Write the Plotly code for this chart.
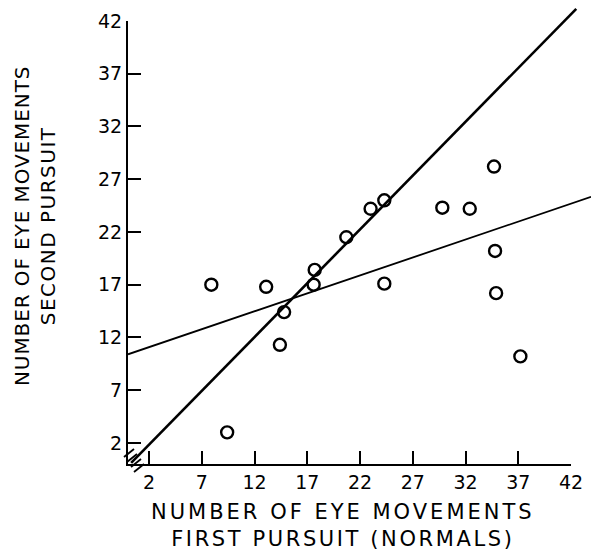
import numpy as np
import plotly.graph_objects as go

# Eye movements counted on the first and the second pursuit (normal subjects)
first_pursuit = [7.9, 9.4, 13.1, 14.4, 14.8, 17.6, 17.7, 20.7, 23.0, 24.3, 24.3,
                 29.8, 32.4, 34.7, 34.8, 34.9, 37.2]
second_pursuit = [17.0, 3.0, 16.8, 11.3, 14.4, 17.0, 18.4, 21.5, 24.2, 25.0, 17.1,
                  24.3, 24.2, 28.2, 20.2, 16.2, 10.2]

# Fitted lines: (intercept, slope, x start, x end)
steep_fit = (-0.2, 1.02, 0.3, 42.5)
shallow_fit = (10.4, 0.34, 0.0, 43.9)

tick_values = [2, 7, 12, 17, 22, 27, 32, 37, 42]
tick_labels = [str(v) for v in tick_values]

FONT = "DejaVu Sans"
INK = "black"

# Page geometry (pixels)
W, H = 591, 556
ML, MB = 128, 92
AXIS_PX = 443.0                 # length of the drawn 0..42 axes
PAPER_W, PAPER_H = W - ML, H - MB
UNIT = AXIS_PX / 42.0           # pixels per count


def fit_line(fit):
    b, m, x0, x1 = fit
    xs = np.array([x0, x1])
    return xs, b + m * xs


fig = go.Figure()

# The fitted lines run past the end of the axes, so they live on a wider,
# hidden pair of axes sharing the same origin and scale.
sx, sy = fit_line(steep_fit)
fig.add_trace(go.Scatter(x=sx, y=sy, mode="lines", xaxis="x2", yaxis="y2",
                         line=dict(color=INK, width=2.6), hoverinfo="skip"))
hx, hy = fit_line(shallow_fit)
fig.add_trace(go.Scatter(x=hx, y=hy, mode="lines", xaxis="x2", yaxis="y2",
                         line=dict(color=INK, width=1.8), hoverinfo="skip"))

fig.add_trace(go.Scatter(
    x=first_pursuit, y=second_pursuit, mode="markers", cliponaxis=False,
    marker=dict(symbol="circle-open", size=12, color=INK, line=dict(width=2.4)),
))

axis_common = dict(
    range=[0, 42], showgrid=False, zeroline=False, automargin=False,
    showline=True, linecolor=INK, linewidth=2,
    ticks="inside", ticklen=13, tickwidth=2, tickcolor=INK,
    tickvals=tick_values, ticktext=tick_labels,
    tickfont=dict(family=FONT, size=19, color=INK),
)
fig.update_layout(
    xaxis=dict(domain=[0, AXIS_PX / PAPER_W], anchor="y", **axis_common),
    yaxis=dict(domain=[0, AXIS_PX / PAPER_H], anchor="x", **axis_common),
    xaxis2=dict(domain=[0, 1], range=[0, PAPER_W / UNIT], visible=False,
                automargin=False, anchor="y2", showgrid=False, zeroline=False),
    yaxis2=dict(domain=[0, 1], range=[0, PAPER_H / UNIT], visible=False,
                automargin=False, anchor="x2", showgrid=False, zeroline=False),
)

# Axis break hatching at the origin
hatch_centres = [(1, 11), (4, 6), (8, 1), (11, -4)]
for cx, cy in hatch_centres:
    fig.add_shape(type="line", xref="paper", yref="paper",
                  x0=(cx - 5) / PAPER_W, y0=(cy - 4) / PAPER_H,
                  x1=(cx + 5) / PAPER_W, y1=(cy + 4) / PAPER_H,
                  line=dict(color=INK, width=1.8))


def px_to_paper(px, py):
    return (px - ML) / PAPER_W, (PAPER_H - py) / PAPER_H


tx, ty = px_to_paper(343, 525)
fig.add_annotation(
    text='<span style="letter-spacing:3px">NUMBER OF EYE MOVEMENTS</span><br>'
         '<span style="letter-spacing:2.6px">FIRST PURSUIT (NORMALS)</span>',
    xref="paper", yref="paper", x=tx, y=ty,
    xanchor="center", yanchor="middle", showarrow=False,
    font=dict(family=FONT, size=21, color=INK),
)
tx, ty = px_to_paper(35, 226)
fig.add_annotation(
    text='<span style="letter-spacing:0.9px">NUMBER OF EYE MOVEMENTS</span><br>'
         '<span style="letter-spacing:1.5px">SECOND PURSUIT</span>',
    xref="paper", yref="paper", x=tx, y=ty, textangle=-90,
    xanchor="center", yanchor="middle", showarrow=False,
    font=dict(family=FONT, size=20, color=INK),
)

fig.update_layout(
    width=W, height=H,
    margin=dict(l=ML, r=0, t=0, b=MB, autoexpand=False),
    plot_bgcolor="rgba(0,0,0,0)", paper_bgcolor="white",
    showlegend=False,
)

fig.write_html("out.html")
